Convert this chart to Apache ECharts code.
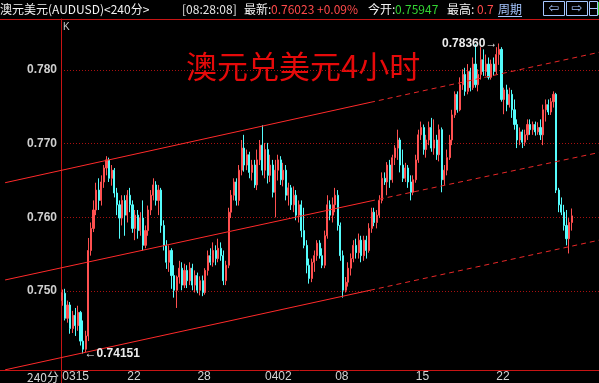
<!DOCTYPE html>
<html><head><meta charset="utf-8">
<script src="https://cdn.jsdelivr.net/npm/echarts@6/dist/echarts.min.js"></script>
<style>html,body{margin:0;padding:0;background:#000;}#c{width:599px;height:383px;}</style>
</head><body><div id="c"></div>
<script>
// ---- data (4-hour candles, AUDUSD) ----
const open = [
0.7487,0.7497,0.7463,0.7481,0.7449,0.7467,0.7453,0.7471,0.7432,0.7421,
0.7439,0.7555,0.7585,0.7610,0.7637,0.7623,0.7648,0.7667,0.7678,0.7653,
0.7664,0.7633,0.7617,0.7599,0.7623,0.7603,0.7630,0.7617,0.7585,0.7603,
0.7582,0.7599,0.7562,0.7582,0.7610,0.7630,0.7644,0.7623,0.7637,0.7589,
0.7562,0.7539,0.7555,0.7521,0.7501,0.7519,0.7531,0.7508,0.7528,0.7514,
0.7531,0.7508,0.7521,0.7501,0.7514,0.7498,0.7528,0.7548,0.7539,0.7555,
0.7544,0.7558,0.7548,0.7514,0.7535,0.7607,0.7630,0.7648,0.7623,0.7664,
0.7694,0.7671,0.7685,0.7661,0.7671,0.7644,0.7678,0.7698,0.7664,0.7692,
0.7657,0.7671,0.7634,0.7664,0.7678,0.7651,0.7664,0.7630,0.7640,0.7617,
0.7630,0.7603,0.7617,0.7582,0.7562,0.7535,0.7517,0.7539,0.7548,0.7565,
0.7548,0.7535,0.7575,0.7617,0.7603,0.7617,0.7630,0.7589,0.7548,0.7501,
0.7512,0.7531,0.7544,0.7562,0.7552,0.7569,0.7548,0.7569,0.7555,0.7585,
0.7607,0.7593,0.7603,0.7623,0.7653,0.7648,0.7671,0.7651,0.7681,0.7694,
0.7705,0.7671,0.7653,0.7667,0.7648,0.7634,0.7651,0.7678,0.7712,0.7722,
0.7692,0.7705,0.7722,0.7694,0.7705,0.7685,0.7719,0.7651,0.7664,0.7681,
0.7705,0.7739,0.7767,0.7746,0.7780,0.7794,0.7771,0.7798,0.7776,0.7808,
0.7780,0.7794,0.7814,0.7798,0.7808,0.7790,0.7808,0.7798,0.7821,0.7828,
0.7760,0.7773,0.7753,0.7767,0.7746,0.7726,0.7705,0.7716,0.7702,0.7712,
0.7726,0.7719,0.7726,0.7716,0.7722,0.7712,0.7746,0.7753,0.7743,0.7757,
0.7767,0.7637,0.7617,0.7607,0.7589,0.7571,0.7593];
const close = [
0.7498,0.7463,0.7481,0.7449,0.7467,0.7453,0.7471,0.7432,0.7421,0.7439,
0.7555,0.7585,0.7610,0.7637,0.7623,0.7648,0.7667,0.7678,0.7653,0.7664,
0.7633,0.7617,0.7599,0.7623,0.7603,0.7630,0.7617,0.7585,0.7603,0.7582,
0.7599,0.7562,0.7582,0.7610,0.7630,0.7644,0.7623,0.7637,0.7589,0.7562,
0.7539,0.7555,0.7521,0.7501,0.7519,0.7531,0.7508,0.7528,0.7514,0.7531,
0.7508,0.7521,0.7501,0.7514,0.7498,0.7528,0.7548,0.7539,0.7555,0.7544,
0.7558,0.7548,0.7514,0.7535,0.7607,0.7630,0.7648,0.7623,0.7664,0.7694,
0.7671,0.7685,0.7661,0.7671,0.7644,0.7678,0.7698,0.7664,0.7692,0.7657,
0.7671,0.7634,0.7664,0.7678,0.7651,0.7664,0.7630,0.7640,0.7617,0.7630,
0.7603,0.7617,0.7582,0.7562,0.7535,0.7517,0.7539,0.7548,0.7565,0.7548,
0.7535,0.7575,0.7617,0.7603,0.7617,0.7630,0.7589,0.7548,0.7501,0.7512,
0.7531,0.7544,0.7562,0.7552,0.7569,0.7548,0.7569,0.7555,0.7585,0.7607,
0.7593,0.7603,0.7623,0.7653,0.7648,0.7671,0.7651,0.7681,0.7694,0.7705,
0.7671,0.7653,0.7667,0.7648,0.7634,0.7651,0.7678,0.7712,0.7722,0.7692,
0.7705,0.7722,0.7694,0.7705,0.7685,0.7719,0.7651,0.7664,0.7681,0.7705,
0.7739,0.7767,0.7746,0.7780,0.7794,0.7771,0.7798,0.7776,0.7808,0.7780,
0.7794,0.7814,0.7798,0.7808,0.7790,0.7808,0.7798,0.7821,0.7828,0.7760,
0.7773,0.7753,0.7767,0.7746,0.7726,0.7705,0.7716,0.7702,0.7712,0.7726,
0.7719,0.7726,0.7716,0.7722,0.7712,0.7746,0.7753,0.7743,0.7757,0.7767,
0.7637,0.7617,0.7607,0.7589,0.7571,0.7593,0.7602];
const low = [
0.7480,0.7460,0.7457,0.7442,0.7443,0.7439,0.7446,0.7426,0.74151,0.7417,
0.7432,0.7548,0.7580,0.7603,0.7610,0.7616,0.7640,0.7657,0.7648,0.7643,
0.7627,0.7603,0.7571,0.7589,0.7575,0.7593,0.7607,0.7579,0.7569,0.7571,
0.7575,0.7555,0.7558,0.7575,0.7603,0.7623,0.7616,0.7603,0.7579,0.7555,
0.7530,0.7526,0.7503,0.7491,0.7477,0.7510,0.7501,0.7504,0.7504,0.7508,
0.7501,0.7498,0.7497,0.7494,0.7493,0.7495,0.7521,0.7535,0.7533,0.7535,
0.7539,0.7541,0.7508,0.7508,0.7531,0.7599,0.7623,0.7616,0.7616,0.7657,
0.7662,0.7664,0.7653,0.7650,0.7640,0.7637,0.7671,0.7657,0.7653,0.7646,
0.7648,0.7627,0.7600,0.7650,0.7644,0.7642,0.7623,0.7616,0.7610,0.7607,
0.7596,0.7593,0.7573,0.7558,0.7524,0.7510,0.7512,0.7526,0.7541,0.7544,
0.7531,0.7531,0.7571,0.7596,0.7593,0.7607,0.7582,0.7541,0.7491,0.7498,
0.7506,0.7521,0.7539,0.7544,0.7544,0.7539,0.7541,0.7544,0.7552,0.7579,
0.7588,0.7585,0.7599,0.7619,0.7644,0.7630,0.7640,0.7647,0.7671,0.7678,
0.7661,0.7648,0.7648,0.7640,0.7623,0.7630,0.7647,0.7674,0.7705,0.7685,
0.7681,0.7698,0.7689,0.7685,0.7678,0.7676,0.7634,0.7644,0.7657,0.7678,
0.7698,0.7735,0.7742,0.7744,0.7773,0.7765,0.7767,0.7771,0.7773,0.7776,
0.7771,0.7787,0.7792,0.7792,0.7787,0.7787,0.7792,0.7794,0.7807,0.7757,
0.7740,0.7744,0.7749,0.7735,0.7719,0.7694,0.7698,0.7694,0.7697,0.7705,
0.7712,0.7712,0.7711,0.7712,0.7705,0.7698,0.7730,0.7739,0.7739,0.7749,
0.7633,0.7607,0.7603,0.7582,0.7562,0.7551,0.7582];
const high = [
0.7502,0.7503,0.7487,0.7485,0.7473,0.7477,0.7480,0.7473,0.7460,0.7446,
0.7572,0.7593,0.7623,0.7647,0.7653,0.7657,0.7671,0.7683,0.7681,0.7671,
0.7667,0.7640,0.7623,0.7630,0.7630,0.7637,0.7640,0.7623,0.7610,0.7610,
0.7607,0.7623,0.7589,0.7616,0.7637,0.7653,0.7649,0.7644,0.7640,0.7596,
0.7569,0.7562,0.7558,0.7535,0.7521,0.7541,0.7539,0.7537,0.7535,0.7539,
0.7537,0.7528,0.7525,0.7520,0.7521,0.7531,0.7555,0.7558,0.7566,0.7562,
0.7571,0.7566,0.7555,0.7541,0.7613,0.7637,0.7653,0.7653,0.7671,0.7705,
0.7712,0.7692,0.7689,0.7678,0.7678,0.7692,0.7705,0.7725,0.7701,0.7701,
0.7685,0.7678,0.7678,0.7685,0.7683,0.7674,0.7671,0.7647,0.7644,0.7642,
0.7637,0.7623,0.7623,0.7613,0.7569,0.7544,0.7544,0.7555,0.7569,0.7569,
0.7558,0.7582,0.7630,0.7623,0.7627,0.7640,0.7637,0.7593,0.7555,0.7519,
0.7539,0.7551,0.7569,0.7571,0.7578,0.7575,0.7575,0.7575,0.7592,0.7613,
0.7613,0.7610,0.7630,0.7661,0.7661,0.7675,0.7678,0.7685,0.7698,0.7719,
0.7708,0.7692,0.7674,0.7671,0.7657,0.7657,0.7685,0.7719,0.7730,0.7726,
0.7712,0.7730,0.7735,0.7733,0.7712,0.7726,0.7722,0.7671,0.7692,0.7712,
0.7746,0.7771,0.7771,0.7790,0.7801,0.7803,0.7808,0.7803,0.7817,0.7835,
0.7801,0.7831,0.7828,0.7821,0.7817,0.7814,0.7817,0.7831,0.7836,0.7831,
0.7776,0.7780,0.7776,0.7773,0.7760,0.7733,0.7722,0.7719,0.7719,0.7733,
0.7733,0.7730,0.7730,0.7729,0.7733,0.7753,0.7760,0.7760,0.7762,0.7771,
0.7769,0.7640,0.7627,0.7617,0.7610,0.7599,0.7612];

const dayLabels = ['0315','22','28','0402','08','15','22'];
const dayStarts = [0, 25, 52, 78, 105, 136, 167];
const yTicks = [0.750, 0.760, 0.770, 0.780];

// price channel: candle-index positions and prices (solid part, then dashed extension)
const channelX   = [-22, 118.4, 206.5];
const upperLine  = [0.7647, 0.7756, 0.7824];
const middleLine = [0.7515, 0.7622, 0.7688];
const lowerLine  = [0.7393, 0.7501, 0.7569];

// ---- layout ----
const W = 599, H = 383;
const GRID_LEFT = 61, GRID_TOP = 19, GRID_BOTTOM = 13;
const SLOTS = 207;
const Y_MIN = 0.739278, Y_MAX = 0.786923;
const AXIS_RED = '#c81414';
const UP = '#ff5050', DOWN = '#54fcfc';

const slotW = (W - GRID_LEFT) / SLOTS;
const X_MIN = -GRID_LEFT / slotW - 0.5;
const X_MAX = SLOTS - 0.5;

const dates = open.map((_, i) => { const k = dayStarts.indexOf(i); return k >= 0 ? dayLabels[k] : ''; });
const candles = open.map((o, i) => [o, close[i], low[i], high[i]]);

let hiIdx = 0, loIdx = 0;
high.forEach((v, i) => { if (v > high[hiIdx]) hiIdx = i; });
low.forEach((v, i) => { if (v < low[loIdx]) loIdx = i; });

function chanSeries(arr) {
  const base = {type: 'line', xAxisIndex: 1, yAxisIndex: 1, symbol: 'none', silent: true, z: 3};
  return [
    Object.assign({}, base, {data: [[channelX[0], arr[0]], [channelX[1], arr[1]]],
      lineStyle: {color: '#ff2a2a', width: 1}}),
    Object.assign({}, base, {data: [[channelX[1], arr[1]], [channelX[2], arr[2]]],
      lineStyle: {color: '#e82828', width: 1, type: [5, 4]}})
  ];
}

const chart = echarts.init(document.getElementById('c'), null, {renderer: 'canvas', width: W, height: H});
const hdrFont = '12px "Noto Sans CJK SC", "Liberation Sans", sans-serif';
function hText(x, text, fill) {
  return {type: 'text', x: x, y: 9, silent: true,
    style: {text: text, fill: fill, font: hdrFont, verticalAlign: 'middle'}};
}
chart.setOption({
  backgroundColor: '#000000',
  animation: false,
  grid: [
    {left: GRID_LEFT, right: 0, top: GRID_TOP, bottom: GRID_BOTTOM},
    {left: 0, right: 0, top: GRID_TOP, bottom: GRID_BOTTOM},
    {left: GRID_LEFT, right: 0, top: GRID_TOP, bottom: 0}
  ],
  xAxis: [
    {type: 'category', gridIndex: 0, data: dates, max: SLOTS - 1, boundaryGap: true,
     axisLine: {show: false}, axisTick: {show: false}, splitLine: {show: false},
     axisLabel: {interval: (i, v) => !!v, color: '#d4d4d4', fontSize: 12, align: 'left', margin: 1,
       fontFamily: 'Liberation Sans'}},
    {type: 'value', gridIndex: 1, min: X_MIN, max: X_MAX,
     axisLine: {show: true, onZero: false, lineStyle: {color: AXIS_RED}}, axisTick: {show: false},
     axisLabel: {show: false}, splitLine: {show: false}},
    {type: 'value', gridIndex: 1, position: 'top', min: X_MIN, max: X_MAX,
     axisLine: {show: true, onZero: false, lineStyle: {color: AXIS_RED}}, axisTick: {show: false},
     axisLabel: {show: false}, splitLine: {show: false}},
    {type: 'value', gridIndex: 2, show: false}
  ],
  yAxis: [
    {type: 'value', gridIndex: 0, min: Y_MIN, max: Y_MAX, scale: true,
     axisLine: {show: false}, axisTick: {show: false, customValues: yTicks},
     axisLabel: {customValues: yTicks, formatter: v => v.toFixed(3), color: '#cfcfcf', fontSize: 12,
       fontWeight: 'bold', fontFamily: 'Liberation Sans', margin: 4},
     splitLine: {show: true, lineStyle: {color: '#a81010', width: 1, type: [1, 2]}}},
    {type: 'value', gridIndex: 1, min: Y_MIN, max: Y_MAX, scale: true, show: false},
    {type: 'value', gridIndex: 2, axisLine: {show: true, lineStyle: {color: AXIS_RED}},
     axisTick: {show: false}, axisLabel: {show: false}, splitLine: {show: false}}
  ],
  series: [
    {type: 'candlestick', xAxisIndex: 0, yAxisIndex: 0, data: candles, barWidth: 1.6, z: 2,
     itemStyle: {color: UP, color0: DOWN, borderColor: UP, borderColor0: DOWN, borderWidth: 1},
     markPoint: {
       symbol: 'circle', symbolSize: 1, itemStyle: {color: 'rgba(0,0,0,0)'},
       label: {show: true, color: '#ececec', fontSize: 12, fontWeight: 'bold', fontFamily: 'Liberation Sans', distance: 1},
       data: [
         {coord: [hiIdx, high[hiIdx]], label: {position: 'left', formatter: high[hiIdx].toFixed(5) + '→'}},
         {coord: [loIdx, low[loIdx]], label: {position: 'right', formatter: '←' + low[loIdx].toFixed(5)}}
       ]
     }},
    ...chanSeries(upperLine),
    ...chanSeries(middleLine),
    ...chanSeries(lowerLine)
  ],
  graphic: [
    hText(0, '澳元美元(AUDUSD)<240分>', '#f2f2f2'),
    hText(182, '[08:28:08]', '#e6e6e6'),
    hText(244, '最新:', '#f2f2f2'),
    hText(271, '0.76023 +0.09%', '#ff4a4a'),
    hText(368, '今开:', '#f2f2f2'),
    hText(395, '0.75947', '#33d433'),
    hText(447, '最高:', '#f2f2f2'),
    hText(477, '0.7', '#ff4a4a'),
    hText(498, '周期', '#a6c6ff'),
    {type: 'line', silent: true, shape: {x1: 498, y1: 16.5, x2: 522, y2: 16.5}, style: {stroke: '#a6c6ff', lineWidth: 1}},
    {type: 'rect', silent: true, shape: {x: 543.5, y: 1.5, width: 21, height: 14}, style: {fill: 'none', stroke: '#a6c6ff', lineWidth: 1}},
    {type: 'text', silent: true, x: 554, y: 9, style: {text: '⇦', fill: '#a6c6ff', font: '13px "DejaVu Sans"', align: 'center', verticalAlign: 'middle'}},
    {type: 'rect', silent: true, shape: {x: 566.5, y: 1.5, width: 21, height: 14}, style: {fill: 'none', stroke: '#a6c6ff', lineWidth: 1}},
    {type: 'text', silent: true, x: 577, y: 9, style: {text: '⇨', fill: '#a6c6ff', font: '13px "DejaVu Sans"', align: 'center', verticalAlign: 'middle'}},
    {type: 'rect', silent: true, shape: {x: 589.5, y: 1.5, width: 8, height: 14}, style: {fill: 'none', stroke: '#a6c6ff', lineWidth: 1}},
    {type: 'line', silent: true, shape: {x1: 590, y1: 8.5, x2: 597, y2: 8.5}, style: {stroke: '#a6c6ff', lineWidth: 1}},
    {type: 'rect', silent: true, shape: {x: 598, y: 2, width: 1, height: 13}, style: {fill: '#2fd02f'}},
    {type: 'text', silent: true, x: 63, y: 27, style: {text: 'K', fill: '#c8c8c8', font: '10px "Liberation Sans"', verticalAlign: 'middle'}},
    {type: 'text', silent: true, x: 186, y: 66, style: {text: '澳元兑美元4小时', fill: '#e60a0a', font: '31px "Noto Sans CJK SC"', verticalAlign: 'middle'}},
    {type: 'text', silent: true, x: 27, y: 377, style: {text: '240分', fill: '#d4d4d4', font: '12px "Noto Sans CJK SC", "Liberation Sans"', verticalAlign: 'middle'}}
  ]
});
</script></body></html>
